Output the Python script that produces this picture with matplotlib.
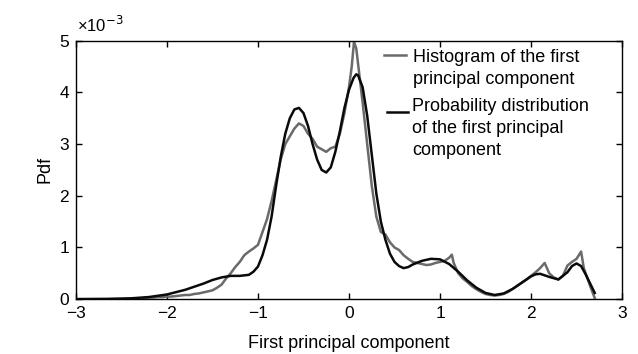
import matplotlib
matplotlib.use("Agg")
import matplotlib.pyplot as plt
from matplotlib.lines import Line2D

plt.rcParams['font.family'] = ['Liberation Sans', 'DejaVu Sans']

# Histogram of the first principal component (values in units of 1e-3)
hist_x = [-3.00, -2.95, -2.90, -2.85, -2.80, -2.75, -2.70, -2.65, -2.60, -2.55,
          -2.50, -2.45, -2.40, -2.35, -2.30, -2.25, -2.20, -2.15, -2.10, -2.05,
          -2.00, -1.95, -1.90, -1.85, -1.80, -1.75, -1.70, -1.65, -1.60, -1.55,
          -1.50, -1.45, -1.40, -1.35, -1.30, -1.25, -1.20, -1.15, -1.10, -1.05,
          -1.00, -0.95, -0.90, -0.85, -0.80, -0.75, -0.70, -0.65, -0.60, -0.55,
          -0.50, -0.45, -0.40, -0.35, -0.30, -0.25, -0.20, -0.15, -0.10, -0.05,
          0.00, 0.03, 0.055, 0.08, 0.10, 0.15, 0.20, 0.25, 0.30, 0.35,
          0.40, 0.45, 0.50, 0.55, 0.60, 0.65, 0.70, 0.75, 0.80, 0.85,
          0.90, 0.95, 1.00, 1.05, 1.10, 1.13, 1.15, 1.20, 1.25, 1.30,
          1.35, 1.40, 1.45, 1.50, 1.55, 1.60, 1.65, 1.70, 1.75, 1.80,
          1.85, 1.90, 1.95, 2.00, 2.05, 2.10, 2.15, 2.20, 2.25, 2.30,
          2.35, 2.40, 2.45, 2.50, 2.55, 2.58, 2.60, 2.65, 2.70]
hist_y = [0.00, 0.00, 0.00, 0.00, 0.00, 0.00, 0.00, 0.00, 0.005, 0.005,
          0.005, 0.01, 0.01, 0.01, 0.015, 0.02, 0.03, 0.03, 0.04, 0.04,
          0.05, 0.05, 0.06, 0.07, 0.08, 0.08, 0.10, 0.11, 0.13, 0.15,
          0.17, 0.22, 0.28, 0.40, 0.50, 0.62, 0.72, 0.85, 0.92, 0.98,
          1.05, 1.30, 1.55, 1.90, 2.30, 2.70, 3.00, 3.15, 3.30, 3.40,
          3.35, 3.20, 3.10, 2.95, 2.90, 2.85, 2.92, 2.95, 3.20, 3.60,
          4.10, 4.50, 4.98, 4.85, 4.55, 3.80, 3.00, 2.20, 1.60, 1.30,
          1.25, 1.10, 1.00, 0.95, 0.85, 0.78, 0.72, 0.70, 0.68, 0.66,
          0.67, 0.70, 0.72, 0.74, 0.80, 0.86, 0.70, 0.50, 0.40, 0.33,
          0.25, 0.19, 0.14, 0.10, 0.08, 0.07, 0.08, 0.10, 0.14, 0.20,
          0.26, 0.32, 0.38, 0.45, 0.52, 0.60, 0.70, 0.50, 0.42, 0.38,
          0.45, 0.65, 0.72, 0.78, 0.92, 0.60, 0.50, 0.25, 0.02]

# Probability distribution (fitted), units of 1e-3
pdf_x = [-3.00, -2.60, -2.40, -2.20, -2.00, -1.80, -1.60, -1.50, -1.40, -1.30,
         -1.20, -1.10, -1.05, -1.00, -0.95, -0.90, -0.85, -0.80, -0.75, -0.70,
         -0.65, -0.60, -0.55, -0.50, -0.45, -0.40, -0.35, -0.30, -0.25, -0.20,
         -0.15, -0.10, -0.05, 0.00, 0.05, 0.08, 0.10, 0.15, 0.20, 0.25,
         0.30, 0.35, 0.40, 0.45, 0.50, 0.55, 0.60, 0.65, 0.70, 0.80,
         0.90, 1.00, 1.10, 1.20, 1.30, 1.40, 1.50, 1.60, 1.70, 1.80,
         1.90, 2.00, 2.05, 2.10, 2.20, 2.30, 2.40, 2.45, 2.50, 2.55,
         2.60, 2.65, 2.70]
pdf_y = [0.00, 0.005, 0.015, 0.04, 0.09, 0.18, 0.30, 0.37, 0.42, 0.45,
         0.45, 0.47, 0.53, 0.63, 0.85, 1.15, 1.60, 2.20, 2.75, 3.20,
         3.50, 3.67, 3.70, 3.60, 3.35, 3.00, 2.70, 2.50, 2.45, 2.55,
         2.85, 3.25, 3.70, 4.05, 4.28, 4.35, 4.33, 4.10, 3.55, 2.80,
         2.05, 1.50, 1.15, 0.88, 0.72, 0.64, 0.60, 0.62, 0.67, 0.74,
         0.78, 0.77, 0.68, 0.53, 0.36, 0.22, 0.12, 0.08, 0.11, 0.20,
         0.32, 0.44, 0.48, 0.49, 0.43, 0.38, 0.52, 0.64, 0.69, 0.64,
         0.48, 0.30, 0.12]

x_ticks = [-3, -2, -1, 0, 1, 2, 3]
y_ticks = [0, 1, 2, 3, 4, 5]
hist_label = "Histogram of the first\nprincipal component"
pdf_label = "Probability distribution\nof the first principal\ncomponent"

fig = plt.figure(figsize=(6.38, 3.54), dpi=100)
ax = fig.add_axes([0.119, 0.155, 0.856, 0.730])

gray = '#6a6a6a'
ax.plot(hist_x, hist_y, color=gray, lw=1.8, zorder=2)
ax.plot(pdf_x, pdf_y, color='#0a0a0a', lw=1.8, zorder=3)

ax.set_xlim(-3, 3)
ax.set_ylim(0, 5)
ax.set_xticks(x_ticks)
ax.set_yticks(y_ticks)
ax.set_xticklabels([str(t).replace('-', '\u2212') for t in x_ticks])
ax.tick_params(direction='in', top=True, right=True, length=4, width=1,
               labelsize=12.5)
ax.tick_params(axis='x', pad=5)
ax.tick_params(axis='y', pad=5)
for s in ax.spines.values():
    s.set_linewidth(1.0)

ax.set_xlabel("First principal component", fontsize=13, labelpad=10)
ax.set_ylabel("Pdf", fontsize=13, labelpad=4)
ax.text(0.002, 1.035, "\u00d710$^{\u2212 3}$", transform=ax.transAxes,
        fontsize=12, ha='left', va='baseline')

# manual legend
tr = ax.transAxes
ax.add_line(Line2D([0.564, 0.604], [0.945, 0.945], color=gray, lw=1.8,
                   transform=tr, clip_on=False))
ax.text(0.617, 0.966, hist_label, transform=tr, fontsize=13,
        ha='left', va='top', linespacing=1.38)
ax.add_line(Line2D([0.570, 0.608], [0.724, 0.724], color='#0a0a0a', lw=1.8,
                   transform=tr, clip_on=False))
ax.text(0.615, 0.778, pdf_label, transform=tr, fontsize=13,
        ha='left', va='top', linespacing=1.38)

fig.savefig("out.png", dpi=100)
